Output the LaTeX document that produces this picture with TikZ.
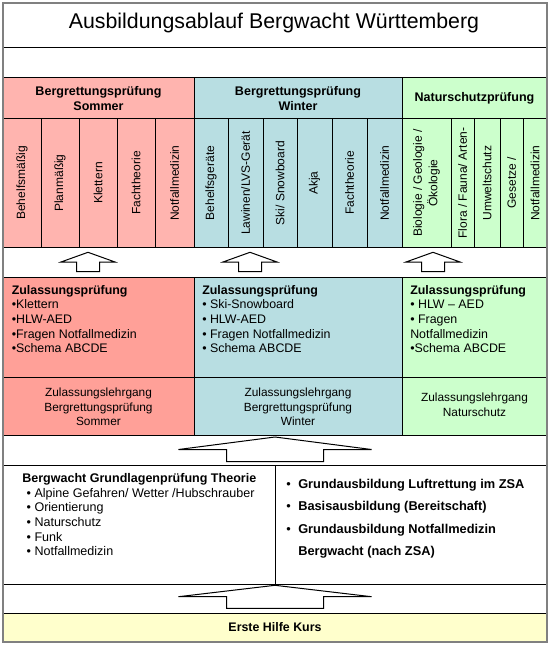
\documentclass[tikz,border=0pt]{standalone}
\usepackage{fontspec}
\setmainfont{Liberation Sans}
\usetikzlibrary{calc}

\definecolor{sommerhell}{RGB}{255,180,175}
\definecolor{sommer}{RGB}{255,160,152}
\definecolor{winter}{RGB}{184,222,226}
\definecolor{natur}{RGB}{204,255,204}
\definecolor{hilfe}{RGB}{255,255,204}
\definecolor{rahmen}{RGB}{128,128,128}

\begin{document}
\begin{tikzpicture}[x=0.75pt,y=-0.75pt,inner sep=0pt]
\tikzstyle{linie}=[draw=black,line width=0.75pt]
\tikzstyle{kopf}=[align=center,font=\fontsize{9.4}{11.25}\selectfont\bfseries]
\tikzstyle{fach}=[rotate=90,align=center,font=\fontsize{9}{11.5}\selectfont]
\tikzstyle{liste}=[anchor=north west,align=left,font=\fontsize{9.3}{11}\selectfont]
\tikzstyle{gang}=[align=center,font=\fontsize{8.9}{11}\selectfont]
\tikzstyle{pfeil}=[draw=black,fill=white,line width=0.75pt]

\useasboundingbox (0,0) rectangle (550,645);

% Farbflaechen
\fill[sommerhell] (3,78) rectangle (194,247);
\fill[winter] (194,78) rectangle (402,247);
\fill[natur] (402,78) rectangle (547,247);
\fill[sommer] (3,277) rectangle (194,435);
\fill[winter] (194,277) rectangle (402,435);
\fill[natur] (402,277) rectangle (547,435);
\fill[hilfe] (3,613) rectangle (547,642);

% Zeilen
\draw[linie] (3,48) -- (547,48);
\draw[linie] (3,78) -- (547,78);
\draw[linie] (3,119) -- (547,119);
\draw[linie] (3,247) -- (547,247);
\draw[linie] (3,277) -- (547,277);
\draw[linie] (3,377) -- (547,377);
\draw[linie] (3,435) -- (547,435);
\draw[linie] (3,465) -- (547,465);
\draw[linie] (3,584) -- (547,584);
\draw[linie] (3,613) -- (547,613);

% Spalten
\draw[linie] (194,78) -- (194,247);
\draw[linie] (402,78) -- (402,247);
\draw[linie] (194,277) -- (194,435);
\draw[linie] (402,277) -- (402,435);
\draw[linie] (41,119) -- (41,247);
\draw[linie] (79,119) -- (79,247);
\draw[linie] (117,119) -- (117,247);
\draw[linie] (155,119) -- (155,247);
\draw[linie] (228,119) -- (228,247);
\draw[linie] (263,119) -- (263,247);
\draw[linie] (297,119) -- (297,247);
\draw[linie] (332,119) -- (332,247);
\draw[linie] (367,119) -- (367,247);
\draw[linie] (451,119) -- (451,247);
\draw[linie] (474,119) -- (474,247);
\draw[linie] (500,119) -- (500,247);
\draw[linie] (523,119) -- (523,247);
\draw[linie] (275,465) -- (275,584);

\draw[rahmen,line width=1.5pt] (3,3) rectangle (547,642);

% Titel und Kopfzeile
\node[anchor=base,font=\fontsize{16}{19}\selectfont] (titel) at (274,28.5) {Ausbildungsablauf Bergwacht Württemberg};
\node[kopf] (hS) at (98.5,98.5) {Bergrettungsprüfung\\Sommer};
\node[kopf] (hW) at (298,98.5) {Bergrettungsprüfung\\Winter};
\node[kopf] (hN) at (474.5,98.5) {Naturschutzprüfung};

% Faecher
\node[fach] (s1) at (22,183) {Behelfsmäßig};
\node[fach] (s2) at (60,183) {Planmäßig};
\node[fach] (s3) at (98,183) {Klettern};
\node[fach] (s4) at (136,183) {Fachtheorie};
\node[fach] (s5) at (174.5,183) {Notfallmedizin};
\node[fach] (w1) at (211,183) {Behelfsgeräte};
\node[fach] (w2) at (245.5,183) {Lawinen/LVS-Gerät};
\node[fach] (w3) at (280,183) {Ski/ Snowboard};
\node[fach] (w4) at (314.5,183) {Akja};
\node[fach] (w5) at (349.5,183) {Fachtheorie};
\node[fach] (w6) at (384.5,183) {Notfallmedizin};
\node[fach] (n1) at (426.5,183) {Biologie / Geologie /\\Ökologie};
\node[fach] (n2) at (462.5,183) {Flora / Fauna/ Arten-};
\node[fach] (n3) at (487,183) {Umweltschutz};
\node[fach] (n4) at (511.5,183) {Gesetze /};
\node[fach] (n5) at (535,183) {Notfallmedizin};

% Zulassung
\node[liste] (zS) at (11.5,285) {\textbf{Zulassungsprüfung}\\•Klettern\\•HLW-AED\\•Fragen Notfallmedizin\\•Schema ABCDE};
\node[liste] (zW) at (202,285) {\textbf{Zulassungsprüfung}\\• Ski-Snowboard\\• HLW-AED\\• Fragen Notfallmedizin\\• Schema ABCDE};
\node[liste] (zN) at (410,285) {\textbf{Zulassungsprüfung}\\• HLW – AED\\• Fragen\\Notfallmedizin\\•Schema ABCDE};

\node[gang] (lS) at (98.5,407) {Zulassungslehrgang\\Bergrettungsprüfung\\Sommer};
\node[gang] (lW) at (298,407) {Zulassungslehrgang\\Bergrettungsprüfung\\Winter};
\node[gang] (lN) at (474.5,404.5) {Zulassungslehrgang\\Naturschutz};

% Grundlagen
\node[liste,font=\fontsize{9.4}{11}\selectfont] (gT) at (22,473) {\textbf{Bergwacht Grundlagenprüfung Theorie}\\
  \hspace*{3.3pt}• Alpine Gefahren/ Wetter /Hubschrauber\\
  \hspace*{3.3pt}• Orientierung\\
  \hspace*{3.3pt}• Naturschutz\\
  \hspace*{3.3pt}• Funk\\
  \hspace*{3.3pt}• Notfallmedizin};
\node[liste,font=\fontsize{9.6}{16.9}\selectfont] (gA) at (286,478.5) {\makebox[9pt][l]{•}\textbf{Grundausbildung Luftrettung im ZSA}\\
  \makebox[9pt][l]{•}\textbf{Basisausbildung (Bereitschaft)}\\
  \makebox[9pt][l]{•}\textbf{Grundausbildung Notfallmedizin}\\
  \makebox[9pt][l]{}\textbf{Bergwacht (nach ZSA)}};

\node[font=\fontsize{9.3}{11}\selectfont\bfseries] (eh) at (275,627.5) {Erste Hilfe Kurs};

% Pfeile
\coordinate (pS) at (88,271.5);
\coordinate (pW) at (250,271.5);
\coordinate (pN) at (433,271.5);
\coordinate (pG) at (275,461.5);
\coordinate (pE) at (275,608.3);

\draw[pfeil] ($(pS)+(-11.5,0)$) -- ++(0,-9.5) -- ++(-15.5,0) -- ++(27,-9.7) -- ++(27,9.7) -- ++(-15.5,0) -- ++(0,9.5) -- cycle;
\draw[pfeil] ($(pW)+(-11.5,0)$) -- ++(0,-9.5) -- ++(-15.5,0) -- ++(27,-9.7) -- ++(27,9.7) -- ++(-15.5,0) -- ++(0,9.5) -- cycle;
\draw[pfeil] ($(pN)+(-11.5,0)$) -- ++(0,-9.5) -- ++(-15.5,0) -- ++(27,-9.7) -- ++(27,9.7) -- ++(-15.5,0) -- ++(0,9.5) -- cycle;
\draw[pfeil] ($(pG)+(-48.5,0)$) -- ++(0,-12) -- ++(-48,0) -- ++(96.5,-12.5) -- ++(96.5,12.5) -- ++(-48,0) -- ++(0,12) -- cycle;
\draw[pfeil] ($(pE)+(-48.5,0)$) -- ++(0,-11.6) -- ++(-48,0) -- ++(96.5,-11.4) -- ++(96.5,11.4) -- ++(-48,0) -- ++(0,11.6) -- cycle;
\end{tikzpicture}
\end{document}
